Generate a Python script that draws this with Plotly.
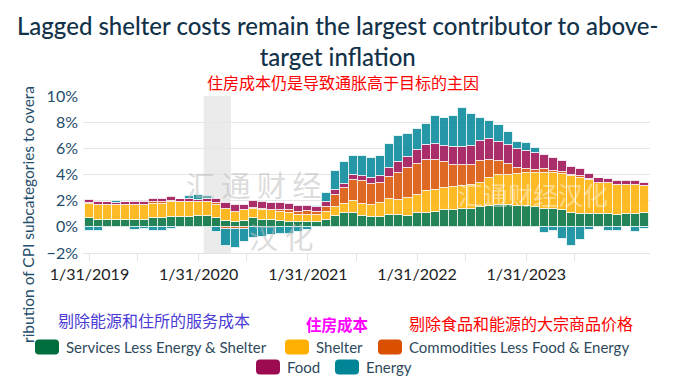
import calendar
import plotly.graph_objects as go

# ---------------- data ----------------
months = [f"{m}/{calendar.monthrange(2019 + i // 12, m)[1]}/{2019 + i // 12}"
          for i, m in enumerate([(j % 12) + 1 for j in range(62)])]
tick_labels = ["1/31/2019", "1/31/2020", "1/31/2021", "1/31/2022", "1/31/2023"]
recession = ("2/29/2020", "4/30/2020")

services = [0.64, 0.56, 0.56, 0.56, 0.56, 0.56, 0.56, 0.71, 0.71, 0.76, 0.76, 0.76,
            0.81, 0.81, 0.64, 0.43, 0.38, 0.43, 0.64, 0.56, 0.51, 0.43, 0.38, 0.35,
            0.38, 0.38, 0.50, 0.84, 1.02, 1.02, 0.84, 0.76, 0.76, 0.89, 0.89, 0.84,
            1.02, 1.09, 1.15, 1.25, 1.25, 1.40, 1.40, 1.50, 1.60, 1.70, 1.68, 1.62,
            1.60, 1.55, 1.40, 1.35, 1.30, 1.05, 1.00, 0.98, 0.97, 0.97, 0.90, 0.97,
            1.00, 1.07]
shelter = [1.12, 1.12, 1.12, 1.12, 1.12, 1.12, 1.12, 1.07, 1.07, 1.12, 1.12, 1.12,
           1.09, 1.09, 1.02, 0.92, 0.76, 0.84, 0.76, 0.71, 0.76, 0.71, 0.69, 0.55,
           0.55, 0.50, 0.64, 0.69, 0.71, 0.94, 0.94, 0.89, 1.07, 1.20, 1.15, 1.40,
           1.45, 1.63, 1.70, 1.73, 1.80, 1.70, 1.83, 1.86, 2.14, 2.24, 2.30, 2.40,
           2.55, 2.60, 2.75, 2.75, 2.75, 2.80, 2.75, 2.60, 2.40, 2.35, 2.30, 2.20,
           2.20, 2.05]
core_goods = [0.10, 0.00, 0.00, 0.00, 0.00, 0.00, 0.00, 0.15, 0.15, 0.10, 0.00, 0.05,
              0.00, 0.00, 0.13, -0.15, -0.18, -0.13, 0.05, 0.10, 0.05, 0.18, 0.20, 0.25,
              0.25, 0.25, 0.38, 0.94, 1.27, 1.65, 1.70, 1.60, 1.53, 1.73, 2.04, 2.26,
              2.37, 2.42, 2.29, 1.98, 1.70, 1.65, 1.53, 1.65, 1.40, 1.07, 0.84, 0.45,
              0.28, 0.22, 0.30, 0.20, 0.15, 0.13, 0.10, 0.04, 0.00, 0.00, 0.00, 0.00,
              -0.05, -0.04]
food = [0.18, 0.23, 0.23, 0.17, 0.25, 0.25, 0.25, 0.22, 0.22, 0.30, 0.22, 0.20,
        0.18, 0.25, 0.30, 0.48, 0.51, 0.43, 0.51, 0.50, 0.51, 0.51, 0.46, 0.43,
        0.43, 0.38, 0.38, 0.33, 0.30, 0.33, 0.43, 0.51, 0.56, 0.71, 0.89, 0.84,
        1.02, 1.09, 1.17, 1.22, 1.35, 1.35, 1.42, 1.58, 1.55, 1.48, 1.45, 1.45,
        1.38, 1.30, 1.05, 0.97, 0.84, 0.60, 0.55, 0.40, 0.40, 0.37, 0.34, 0.32,
        0.29, 0.26]
energy = [-0.33, -0.33, 0.00, 0.10, 0.00, -0.25, -0.13, -0.33, -0.33, -0.20, 0.00, 0.25,
          0.38, 0.18, -0.38, -1.33, -1.47, -1.00, -0.89, -0.76, -0.64, -0.56, -0.51, -0.38,
          -0.25, 0.12, 0.71, 1.48, 1.63, 1.50, 1.50, 1.50, 1.53, 1.78, 1.98, 1.78,
          1.65, 1.65, 2.16, 2.14, 2.37, 2.98, 2.42, 1.70, 1.40, 1.27, 0.97, 0.58,
          0.60, 0.35, -0.45, -0.35, -0.92, -1.45, -1.00, -0.23, 0.00, -0.33, -0.33, -0.05,
          -0.33, -0.15]

series_names = ["Services Less Energy & Shelter", "Shelter",
                "Commodities Less Food & Energy", "Food", "Energy"]
series_values = [services, shelter, core_goods, food, energy]
colors = ["#006e3c", "#ffb000", "#d95000", "#9c0a50", "#008597"]

# ---------------- layout helpers ----------------
W, H = 688, 392
OFF = 8                                  # page body margin offset
L, R, T, B = 83 - OFF, 650 - OFF, 96 - OFF, 253 - OFF   # plot area (figure px)
def px(x):   # x given in screenshot pixels
    return (x - OFF - L) / (R - L)
def py(y):
    return (B - (y - OFF)) / (B - T)

FONT = "Lato, 'Source Sans Pro', sans-serif"
CJK = "Noto Sans CJK SC"
idx = list(range(len(months)))

fig = go.Figure()
for name, vals, col in zip(series_names, series_values, colors):
    fig.add_trace(go.Bar(
        x=idx, y=vals, name=name, width=1.0,
        marker=dict(color=col, opacity=0.85,
                    line=dict(color="rgba(255,255,255,0.75)", width=1)),
        showlegend=False, hoverinfo="skip"))

# recession shading
r0 = months.index(recession[0]) - 0.45
r1 = months.index(recession[1]) + 0.55
fig.add_shape(type="rect", xref="x", yref="y", x0=r0, x1=r1, y0=-2, y1=10,
              fillcolor="#ebebeb", line=dict(width=0), layer="below")

tickvals = [months.index(t) for t in tick_labels]
minor_vals = [v + 5.3 for v in tickvals]

fig.update_layout(
    width=W, height=H,
    margin=dict(l=L, r=W - R, t=T, b=H - B),
    paper_bgcolor="white", plot_bgcolor="white",
    barmode="relative", bargap=0,
    font=dict(family=FONT),
    xaxis=dict(range=[-0.71, 61.6], tickmode="array", tickvals=tickvals,
               ticktext=tick_labels, showgrid=False, zeroline=False,
               showline=True, linecolor="#e3e3e3", linewidth=1,
               ticks="outside", ticklen=7, tickcolor="#e3e3e3",
               tickfont=dict(size=16, color="#222222", family=FONT),
               minor=dict(tickvals=minor_vals, ticks="outside", ticklen=7,
                          tickcolor="#e3e3e3", showgrid=False)),
    yaxis=dict(range=[-2, 10], dtick=2, tick0=0, ticksuffix="%",
               showgrid=True, gridcolor="#e6e6e6", gridwidth=1, zeroline=False,
               tickfont=dict(size=16, color="#1f4d6b", family=FONT),
               ticks="", ticklabelstandoff=4),
)

ann = []
# title
ann.append(dict(text="Lagged shelter costs remain the largest contributor to above-<br>target inflation",
                x=px(337), y=py(41), xref="paper", yref="paper", showarrow=False,
                font=dict(size=24, color="#12324a", family=FONT, weight=500), align="center",
                xanchor="center", yanchor="middle"))
ann.append(dict(text="住房成本仍是导致通胀高于目标的主因", x=px(343), y=py(82),
                xref="paper", yref="paper", showarrow=False,
                font=dict(size=16, color="#ff0000", family=CJK),
                xanchor="center", yanchor="middle"))
# y-axis title (visible part)
ann.append(dict(text="ribution of CPI subcategories to overa", x=px(28), y=py(215),
                xref="paper", yref="paper", showarrow=False, textangle=-90,
                font=dict(size=15.5, color="#1f4d6b", family=FONT),
                xanchor="center", yanchor="middle"))
# Chinese legend notes
ann.append(dict(text="剔除能源和住所的服务成本", x=px(154), y=py(320), xref="paper", yref="paper",
                showarrow=False, font=dict(size=16, color="#4b3bd6", family=CJK),
                xanchor="center", yanchor="middle"))
ann.append(dict(text="<b>住房成本</b>", x=px(337), y=py(324), xref="paper", yref="paper",
                showarrow=False, font=dict(size=15.5, color="#ff00ff", family=CJK),
                xanchor="center", yanchor="middle"))
ann.append(dict(text="剔除食品和能源的大宗商品价格", x=px(521), y=py(323), xref="paper", yref="paper",
                showarrow=False, font=dict(size=16, color="#ff0000", family=CJK),
                xanchor="center", yanchor="middle"))
# watermarks
ann.append(dict(text="汇 通 财 经", x=px(254), y=py(184), xref="paper", yref="paper",
                showarrow=False, font=dict(size=29, color="rgba(190,190,190,0.55)", family=CJK),
                xanchor="center", yanchor="middle"))
ann.append(dict(text="汉 化", x=px(281), y=py(236), xref="paper", yref="paper",
                showarrow=False, font=dict(size=29, color="rgba(190,190,190,0.55)", family=CJK),
                xanchor="center", yanchor="middle"))
ann.append(dict(text="汇通财经汉化", x=px(533), y=py(194), xref="paper", yref="paper",
                showarrow=False, font=dict(size=25, color="rgba(255,255,255,0.45)", family=CJK),
                xanchor="center", yanchor="middle"))

# custom legend (rounded swatches + labels)
legend_pos = [(35, 347), (285, 347), (378, 347), (256, 367), (335, 367)]
shapes = []
for (sx, sy), name, col in zip(legend_pos, series_names, colors):
    w, h, r = 24, 15, 4
    x0, x1, y0, y1 = sx, sx + w, sy - h / 2, sy + h / 2
    path = (f"M {px(x0 + r)},{py(y0)} L {px(x1 - r)},{py(y0)} "
            f"Q {px(x1)},{py(y0)} {px(x1)},{py(y0 + r)} L {px(x1)},{py(y1 - r)} "
            f"Q {px(x1)},{py(y1)} {px(x1 - r)},{py(y1)} L {px(x0 + r)},{py(y1)} "
            f"Q {px(x0)},{py(y1)} {px(x0)},{py(y1 - r)} L {px(x0)},{py(y0 + r)} "
            f"Q {px(x0)},{py(y0)} {px(x0 + r)},{py(y0)} Z")
    shapes.append(dict(type="path", xref="paper", yref="paper", path=path,
                       fillcolor=col, line=dict(width=0)))
    ann.append(dict(text=name, x=px(sx + w + 5), y=py(sy), xref="paper", yref="paper",
                    showarrow=False, font=dict(size=15, color="#2e4a5c", family=FONT),
                    xanchor="left", yanchor="middle"))

for s in shapes:
    fig.add_shape(**s)
fig.update_layout(annotations=ann)

fig.write_html("out.html")
